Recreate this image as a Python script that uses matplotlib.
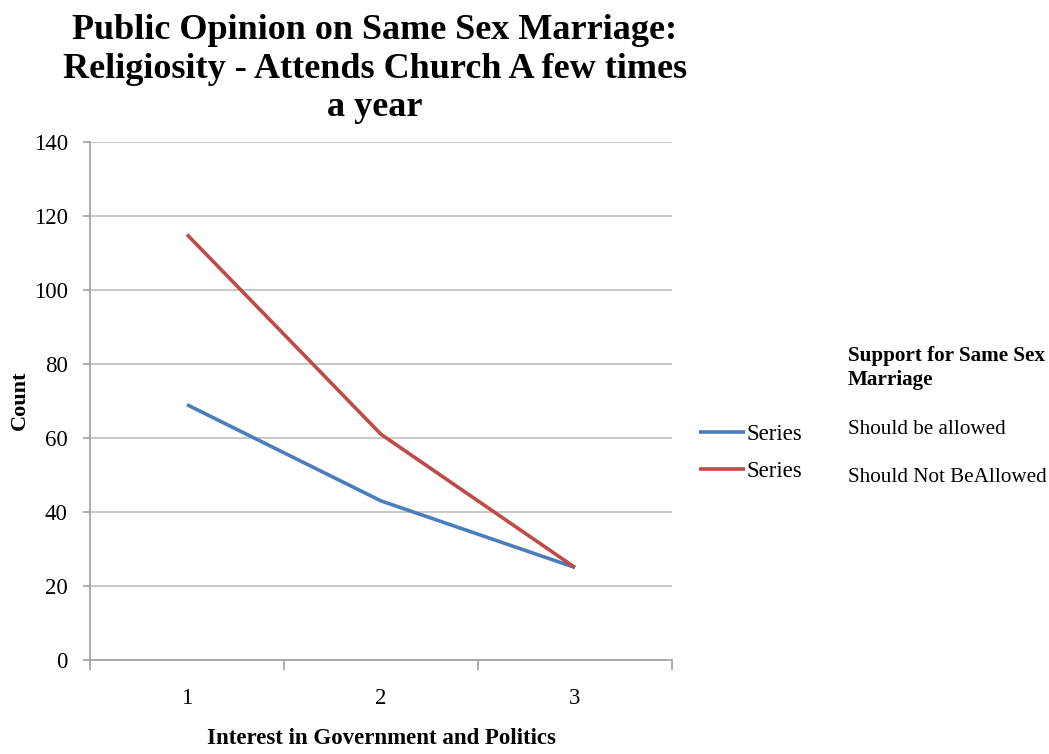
import matplotlib
matplotlib.use("Agg")
import matplotlib.pyplot as plt
from matplotlib.ticker import FixedLocator, NullFormatter

categories = ["1", "2", "3"]
series_names = ["Should be allowed", "Should Not BeAllowed"]
allowed = [69, 43, 25]
not_allowed = [115, 61, 25]
y_ticks = [0, 20, 40, 60, 80, 100, 120, 140]

title = "Public Opinion on Same Sex Marriage:\nReligiosity - Attends Church A few times\na year"
legend_title = "Support for Same Sex\nMarriage"
x_label = "Interest in Government and Politics"
y_label = "Count"

SERIF = ["Liberation Serif", "DejaVu Serif"]
plt.rcParams["font.family"] = SERIF

fig = plt.figure(figsize=(10.49, 7.54), dpi=100)
ax = fig.add_axes([90/1049, 1-660/754, (672-90)/1049, (660-142)/754])

x = list(range(len(categories)))
l1, = ax.plot(x, allowed, color="#4a7ebb", lw=2.6, solid_capstyle="butt")
l2, = ax.plot(x, not_allowed, color="#be4b48", lw=2.6, solid_capstyle="butt")

ax.set_xlim(-0.5, len(categories) - 0.5)
ax.set_ylim(0, 140)
ax.set_yticks(y_ticks)
ax.set_yticklabels([str(v) for v in y_ticks], fontsize=16.5)
ax.yaxis.grid(True, color="#bfbfbf", lw=1.2)
ax.set_axisbelow(True)

ax.xaxis.set_major_locator(FixedLocator([i - 0.5 for i in range(len(categories) + 1)]))
ax.xaxis.set_major_formatter(NullFormatter())
ax.xaxis.set_minor_locator(FixedLocator(x))
ax.set_xticklabels(categories, minor=True, fontsize=16.5)
ax.tick_params(axis="x", which="major", length=7, color="#a0a0a0", width=1.2)
ax.tick_params(axis="x", which="minor", length=0, pad=20)
ax.tick_params(axis="y", length=5, color="#a0a0a0", width=1.2, pad=11)

for s in ["top", "right"]:
    ax.spines[s].set_visible(False)
for s in ["left", "bottom"]:
    ax.spines[s].set_color("#a0a0a0")
    ax.spines[s].set_linewidth(1.2)

fig.text(20/1049, 1-400/754, y_label, rotation=90, ha="center", va="center",
         fontsize=16, fontweight="bold")
fig.text(381/1049, 1-739/754, x_label, ha="center", va="center",
         fontsize=16.5, fontweight="bold")

fig.text(375/1049, 1-14/754, title, ha="center", va="top", fontsize=26,
         fontweight="bold", linespacing=1.22)

leg = fig.legend([l1, l2], ["Series", "Series"], loc="upper left",
                 bbox_to_anchor=(690/1049, 1-415/754), frameon=False,
                 fontsize=16.5, handlelength=2.0, handletextpad=0.05,
                 labelspacing=0.7, borderaxespad=0)

fig.text(848/1049, 1-346/754, legend_title, ha="left", va="top", fontsize=15.2,
         fontweight="bold", linespacing=1.25)
ys = [430, 478]
for name, yy in zip(series_names, ys):
    fig.text(848/1049, 1-yy/754, name, ha="left", va="center", fontsize=15.2)

fig.savefig("out.png", dpi=100)
